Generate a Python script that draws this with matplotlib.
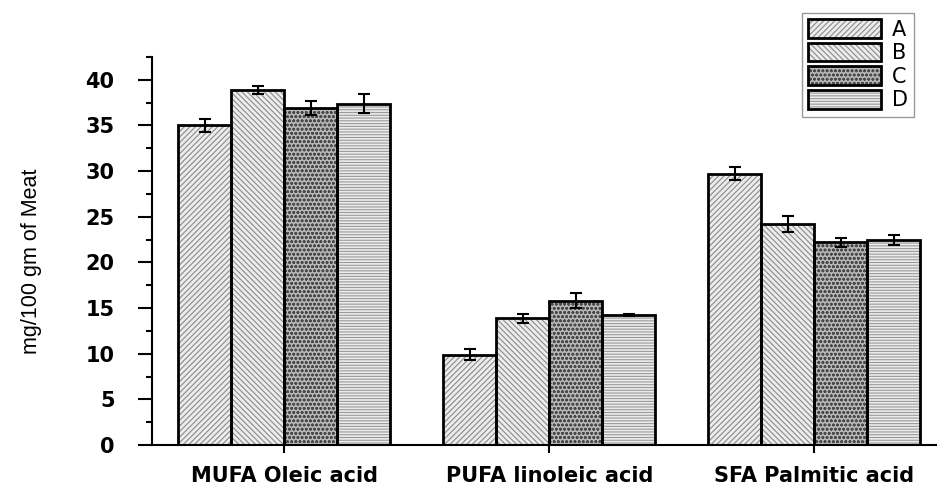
import matplotlib
matplotlib.use("Agg")
import matplotlib.pyplot as plt
import numpy as np
from matplotlib.patches import Patch
from matplotlib.ticker import MultipleLocator

categories = ["MUFA Oleic acid", "PUFA linoleic acid", "SFA Palmitic acid"]
series = ["A", "B", "C", "D"]
values_A = [35.0, 9.9, 29.7]
values_B = [38.9, 13.9, 24.2]
values_C = [36.9, 15.8, 22.2]
values_D = [37.4, 14.2, 22.5]
err_A = [0.7, 0.6, 0.7]
err_B = [0.45, 0.5, 0.9]
err_C = [0.8, 0.8, 0.5]
err_D = [1.0, 0.1, 0.55]
yticks = [0, 5, 10, 15, 20, 25, 30, 35, 40]

vals = [values_A, values_B, values_C, values_D]
errs = [err_A, err_B, err_C, err_D]
hatches = ["//////", "\\\\\\\\\\\\", "oooo", "------"]
faces = ["#ececec", "#ececec", "#b8b8b8", "#ececec"]
hcols = ["#8a8a8a", "#8a8a8a", "#4a4a4a", "#9a9a9a"]

plt.rcParams["hatch.linewidth"] = 0.8
plt.rcParams["font.family"] = ["DejaVu Sans"]

fig = plt.figure(figsize=(9.39, 4.87), dpi=100)
W, H = 939, 487
ax = fig.add_axes([152 / W, 42 / H, (936 - 152) / W, (445 - 57) / H])

x = np.arange(1, len(categories) + 1)
bw = 0.2
handles = []
for i, s in enumerate(series):
    pos = x + (i - 1.5) * bw
    plt.rcParams["hatch.color"] = hcols[i]
    ax.bar(pos, vals[i], width=bw, color=faces[i], hatch=hatches[i],
           edgecolor=hcols[i], linewidth=0, zorder=2)
    ax.bar(pos, vals[i], width=bw, fill=False, edgecolor="black",
           linewidth=2, zorder=3)
    ax.errorbar(pos, vals[i], yerr=errs[i], fmt="none", ecolor="black",
                elinewidth=1.5, capsize=4.5, capthick=1.5, zorder=4)
    h1 = Patch(facecolor=faces[i], hatch=hatches[i], edgecolor=hcols[i], linewidth=0)
    h2 = Patch(fill=False, edgecolor="black", linewidth=2)
    handles.append((h1, h2))

ax.set_xlim(0.5, 3.46)
ax.set_ylim(0, 42.5)
ax.set_xticks(x)
ax.set_xticklabels(categories, fontsize=15, fontweight="bold")
ax.set_yticks(yticks)
ax.set_yticklabels([str(t) for t in yticks], fontsize=15, fontweight="bold")
ax.yaxis.set_minor_locator(MultipleLocator(2.5))
ax.tick_params(axis="y", which="major", direction="out", length=10, width=1.5, pad=17)
ax.tick_params(axis="y", which="minor", direction="out", length=4, width=1.5)
ax.tick_params(axis="x", which="major", direction="out", length=6, width=1.5, pad=9)
for sp in ["top", "right"]:
    ax.spines[sp].set_visible(False)
for sp in ["left", "bottom"]:
    ax.spines[sp].set_linewidth(1.5)

ax.set_ylabel("mg/100 gm of Meat", fontsize=15.5,
              family=["Liberation Sans"])
ax.yaxis.set_label_coords(-0.140, 0.474)

leg = fig.legend(handles, series, loc="upper left",
                 bbox_to_anchor=(802 / W, 1 - 13 / H), fontsize=15,
                 handlelength=3.5, handleheight=1.0, labelspacing=0.15,
                 handletextpad=0.5, borderpad=0.3, borderaxespad=0,
                 fancybox=False, edgecolor="#999999", framealpha=1)
leg.get_frame().set_linewidth(1.0)

fig.savefig("out.png", dpi=100)
